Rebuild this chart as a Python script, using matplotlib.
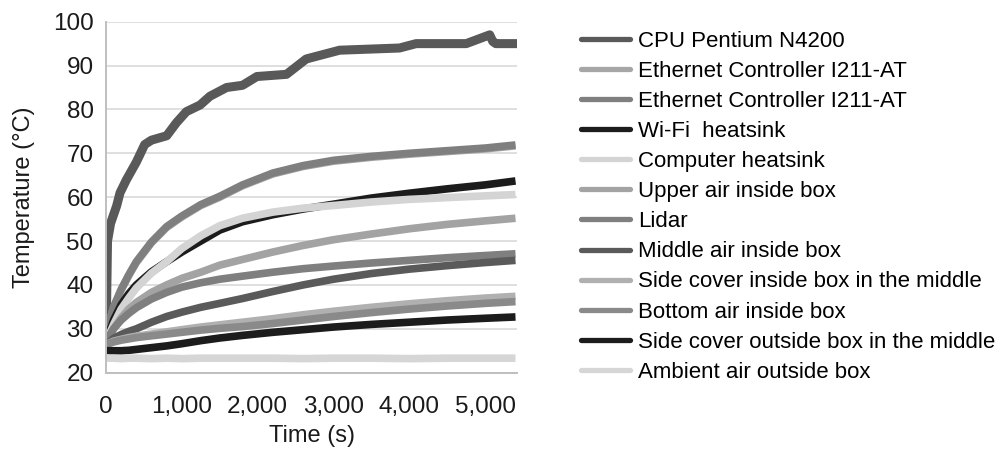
import matplotlib
matplotlib.use('Agg')
import matplotlib.pyplot as plt
from matplotlib.ticker import FuncFormatter

plt.rcParams['font.family'] = ['Liberation Sans', 'DejaVu Sans']

# sample times (s) shared by the slower sensors
t = [0, 50, 100, 200, 300, 400, 600, 800, 1000, 1250, 1500, 1800,
     2200, 2600, 3000, 3500, 4000, 4500, 5000, 5400]

# CPU is logged on its own, noisier time base
t_cpu = [0, 20, 60, 140, 185, 270, 400, 510, 600, 800, 930, 1060, 1240,
         1370, 1590, 1800, 1990, 2380, 2640, 3080, 3870, 4090, 4750,
         5060, 5100, 5140, 5420]
cpu = [27, 50, 54, 58, 61, 64, 68, 72, 73, 74, 77, 79.5, 81, 83, 85,
       85.5, 87.5, 88, 91.5, 93.5, 94, 95, 95, 97, 95.5, 95, 95]

eth1 = [27.8, 31.8, 34.8, 38.8, 42.1, 45.1, 49.6, 53.1, 55.5, 58.1, 60.0,
        62.6, 65.3, 67.0, 68.2, 69.1, 69.8, 70.4, 71.0, 71.7]
eth2 = [28, 32, 35, 39, 42.3, 45.3, 49.8, 53.3, 55.7, 58.3, 60.2, 62.8,
        65.5, 67.2, 68.4, 69.3, 70.0, 70.6, 71.2, 71.9]
wifi = [27, 29.5, 32, 35.5, 38, 40, 43, 45.3, 47.5, 50, 52.5, 54.4,
        56, 57.3, 58.4, 59.8, 60.9, 61.9, 62.8, 63.7]
computer = [27, 29, 31, 34.5, 37, 39.3, 42.7, 45.3, 48.3, 51.2, 53.5,
            55.2, 56.6, 57.5, 58.1, 58.9, 59.5, 59.9, 60.3, 60.6]
upper_air = [27, 28.5, 30, 32.5, 34.5, 36, 38.3, 40, 41.5, 42.9, 44.5,
             45.8, 47.5, 49, 50.3, 51.6, 52.8, 53.8, 54.6, 55.2]
lidar = [27, 28.5, 30, 32, 33.5, 34.8, 36.8, 38.3, 39.5, 40.5, 41.3, 42,
         42.9, 43.7, 44.3, 45, 45.6, 46.2, 46.7, 47.1]
middle_air = [26.5, 27, 27.8, 28.7, 29.4, 30, 31.5, 32.8, 33.8, 34.9,
              35.8, 36.9, 38.5, 40, 41.3, 42.6, 43.6, 44.4, 45.1, 45.6]
side_in = [26.5, 26.8, 27.2, 27.6, 28, 28.3, 28.8, 29.3, 29.8, 30.4, 30.9,
           31.5, 32.3, 33.2, 34, 34.9, 35.7, 36.4, 37, 37.4]
bottom_air = [26.5, 26.7, 27, 27.4, 27.7, 28, 28.4, 28.8, 29.2, 29.7,
              30.1, 30.5, 31.2, 32, 32.8, 33.7, 34.5, 35.2, 35.8, 36.2]
side_out = [25, 25, 25, 25, 25.1, 25.3, 25.7, 26.1, 26.6, 27.3, 27.9,
            28.5, 29.2, 29.8, 30.4, 31, 31.5, 32, 32.4, 32.7]
ambient = [23.4, 23.3, 23.3, 23.2, 23.3, 23.3, 23.2, 23.3, 23.2, 23.3,
           23.3, 23.3, 23.3, 23.2, 23.3, 23.3, 23.2, 23.3, 23.3, 23.3]

labels = ['CPU Pentium N4200', 'Ethernet Controller I211-AT',
          'Ethernet Controller I211-AT', 'Wi-Fi  heatsink',
          'Computer heatsink', 'Upper air inside box', 'Lidar',
          'Middle air inside box', 'Side cover inside box in the middle',
          'Bottom air inside box', 'Side cover outside box in the middle',
          'Ambient air outside box']
colors = ['#595959', '#a6a6a6', '#7f7f7f', '#1c1c1c', '#d4d4d4', '#a3a3a3',
          '#7f7f7f', '#5a5a5a', '#b0b0b0', '#8a8a8a', '#1c1c1c', '#d6d6d6']
series = [(t_cpu, cpu), (t, eth1), (t, eth2), (t, wifi), (t, computer),
          (t, upper_air), (t, lidar), (t, middle_air), (t, side_in),
          (t, bottom_air), (t, side_out), (t, ambient)]

fig = plt.figure(figsize=(10.01, 4.49), dpi=100)
ax = fig.add_axes([0.1059, 0.170, 0.4106, 0.7817])

for i, ((x, y), lab, c) in enumerate(zip(series, labels, colors)):
    ax.plot(x, y, color=c, lw=6.5 if i == 0 else 5.5, label=lab,
            solid_capstyle='butt')

ax.set_xlim(0, 5420)
ax.set_ylim(20, 100)
ax.set_yticks(range(20, 101, 10))
ax.set_xticks(range(0, 5001, 1000))
ax.xaxis.set_major_formatter(FuncFormatter(lambda v, p: f'{int(v):,}'))
ax.grid(axis='y', color='#d9d9d9', lw=1.2)
ax.set_axisbelow(True)
for s in ['top', 'right']:
    ax.spines[s].set_visible(False)
for s in ['left', 'bottom']:
    ax.spines[s].set_color('#bfbfbf')
    ax.spines[s].set_linewidth(1.4)
ax.tick_params(length=0, labelsize=17.5, colors='#1a1a1a')
ax.tick_params(axis='y', pad=9)
ax.tick_params(axis='x', pad=17)

ax.set_xlabel('Time (s)', fontsize=17, color='#1a1a1a')
ax.set_ylabel('Temperature (°C)', fontsize=17, color='#1a1a1a')
ax.xaxis.set_label_coords(0.5, -0.148)
ax.yaxis.set_label_coords(-0.172, 0.5)

leg = fig.legend(loc='upper left', bbox_to_anchor=(0.580, 0.932),
                 frameon=False, fontsize=16, borderpad=0, borderaxespad=0,
                 handlelength=2.24, handletextpad=0.35, labelspacing=0.41)
for line in leg.get_lines():
    line.set_linewidth(3.8)
    line.set_solid_capstyle('round')

fig.savefig('out.png', dpi=100)
